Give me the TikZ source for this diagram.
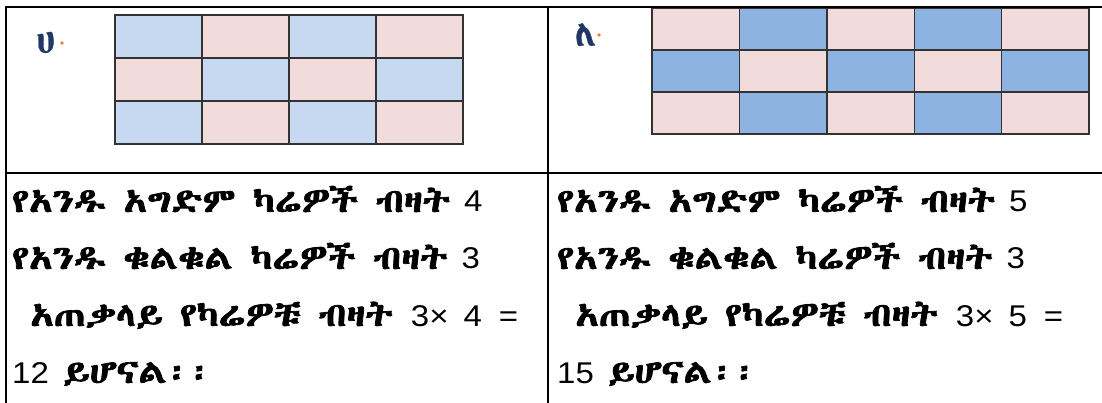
\documentclass[tikz,border=0pt]{standalone}
\usepackage{fontspec}
\setmainfont{Liberation Sans}
\newfontfamily\dig[FakeStretch=1.1]{Liberation Sans}
\IfFontExistsTF{Abyssinica SIL}{\newfontfamily\eth[FakeBold=2.2,FakeStretch=1.17]{Abyssinica SIL}\newfontfamily\ethlab[FakeSlant=-0.2,FakeBold=0.8]{Abyssinica SIL}}{%
  \newfontfamily\eth{DejaVu Sans}\newfontfamily\ethlab{DejaVu Sans}}
\definecolor{cpink}{HTML}{F2DCDB}
\definecolor{clblue}{HTML}{C6D9F1}
\definecolor{cmblue}{HTML}{8DB3E2}
\definecolor{cgrid}{HTML}{333333}
\definecolor{clabel}{HTML}{1F3864}
\definecolor{cdot}{HTML}{ED7D31}
\newcommand{\et}[1]{{\eth\fontsize{33}{36}\selectfont #1}}
\newcommand{\gap}[1]{\hspace{#1pt}}
\begin{document}
\begin{tikzpicture}[x=1pt,y=-1pt,
  border/.style={line width=2.6pt,black},
  cellbox/.style={draw=cgrid,line width=1.4pt},
  txt/.style={anchor=base west,inner sep=0pt,font=\dig\fontsize{30}{34}\selectfont},
  lab/.style={anchor=base west,inner sep=0pt,text=clabel,font=\ethlab\fontsize{36}{40}\selectfont}]
\useasboundingbox (0,0) rectangle (1102,403);
\fill[white] (0,0) rectangle (1102,403);
% grid 1
\foreach \r in {0,1,2}{\foreach \c in {0,1,2,3}{
  \pgfmathtruncatemacro{\p}{mod(\r+\c,2)}
  \ifnum\p=0 \def\cc{clblue}\else\def\cc{cpink}\fi
  \filldraw[cellbox,fill=\cc] (115+87*\c,15+43*\r) rectangle (202+87*\c,58+43*\r);
}}
% grid 2
\foreach \r in {0,1,2}{\foreach \c in {0,1,2,3,4}{
  \pgfmathtruncatemacro{\p}{mod(\r+\c,2)}
  \ifnum\p=0 \def\cc{cpink}\else\def\cc{cmblue}\fi
  \filldraw[cellbox,fill=\cc] (652+87.4*\c,8+42*\r) rectangle (739.4+87.4*\c,50+42*\r);
}}
% table lines
\draw[border] (4.7,7) -- (1102,7);
\draw[border] (6,5.7) -- (6,403);
\draw[border] (548,5.7) -- (548,403);
\draw[border] (6,173) -- (1102,173);
% labels
\node[lab] (la) at (38,53) {ሀ};
\fill[cdot] (62,43) circle (1.8);
\node[lab] (lb) at (576,46) {ለ};
\fill[cdot] (599,35) circle (1.8);
% texts left
\node[txt] (a1) at (12,212) {\et{የአንዱ አግድም ካሬዎች ብዛት}\gap{14}4};
\node[txt] (a2) at (12,269) {\et{የአንዱ ቁልቁል ካሬዎች ብዛት}\gap{14}3};
\node[txt] (a3) at (30,326) {\et{አጠቃላይ የካሬዎቹ ብዛት}\gap{18}3×\gap{15}4\gap{17}=};
\node[txt] (a4) at (12,383) {12\gap{14}\et{ይሆናል፡፡}};
% texts right
\node[txt] (b1) at (557,212) {\et{የአንዱ አግድም ካሬዎች ብዛት}\gap{14}5};
\node[txt] (b2) at (557,269) {\et{የአንዱ ቁልቁል ካሬዎች ብዛት}\gap{14}3};
\node[txt] (b3) at (575,326) {\et{አጠቃላይ የካሬዎቹ ብዛት}\gap{18}3×\gap{15}5\gap{17}=};
\node[txt] (b4) at (557,383) {15\gap{14}\et{ይሆናል፡፡}};
\end{tikzpicture}
\end{document}
